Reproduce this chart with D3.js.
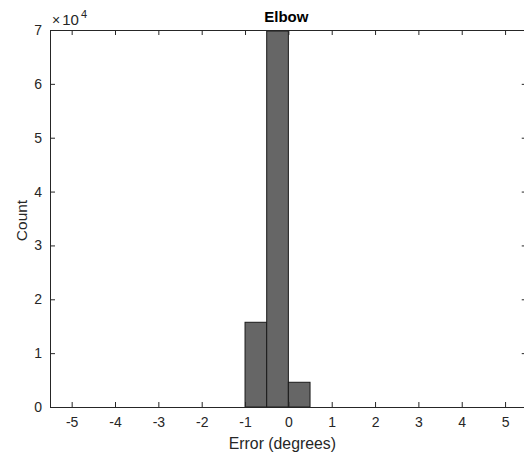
<!DOCTYPE html>
<html><head><meta charset="utf-8">
<script src="https://cdn.jsdelivr.net/npm/d3@7"></script>
<style>body{margin:0;background:#fff}svg{display:block}text{font-family:"Liberation Sans",Arial,sans-serif;fill:#262626}</style>
</head><body>
<svg id="c" width="524" height="456"></svg>
<script>
const binEdgesLeft = [-1, -0.5, 0];
const binWidth = 0.5;
const counts = [15730, 69800, 4590];
const xTicks = [-5, -4, -3, -2, -1, 0, 1, 2, 3, 4, 5];
const yTicks = [0, 1, 2, 3, 4, 5, 6, 7];
const title = "Elbow";
const xLabel = "Error (degrees)";
const yLabel = "Count";

(function () {
const svg = d3.select("#c");
const L = 50, T = 30, B = 407;
const x = d3.scaleLinear().domain([-5.5, 5.5]).range([L, L + 11 * 43.34]);
const y = d3.scaleLinear().domain([0, 70000]).range([B, T]);
const R = x(5.5);
const ax = "#262626";

// bars
svg.append("g").selectAll("rect").data(binEdgesLeft).join("rect")
  .attr("x", (d) => x(d)).attr("width", (d) => x(d + binWidth) - x(d))
  .attr("y", (d, i) => y(counts[i])).attr("height", (d, i) => y(0) - y(counts[i]))
  .attr("fill", "#666666").attr("stroke", "#1a1a1a").attr("stroke-width", 1);

// axes
const gBottom = svg.append("g").attr("transform", `translate(0,${B})`)
  .call(d3.axisBottom(x).tickValues(xTicks).tickSizeInner(-5).tickSizeOuter(0).tickPadding(10).tickFormat(d => String(d)));
const gTop = svg.append("g").attr("transform", `translate(0,${T})`)
  .call(d3.axisTop(x).tickValues(xTicks).tickSizeInner(-5).tickSizeOuter(0).tickFormat(""));
const gLeft = svg.append("g").attr("transform", `translate(${L},0)`)
  .call(d3.axisLeft(y).tickValues(yTicks.map(v => v * 10000)).tickSizeInner(-5).tickSizeOuter(0).tickPadding(8).tickFormat(d => String(d / 10000)));
const gRight = svg.append("g").attr("transform", `translate(${R},0)`)
  .call(d3.axisRight(y).tickValues(yTicks.map(v => v * 10000)).tickSizeInner(-5).tickSizeOuter(0).tickFormat(""));
[gBottom, gTop, gLeft, gRight].forEach(g => {
  g.attr("font-size", 14).attr("font-family", '"Liberation Sans",Arial,sans-serif');
  g.select(".domain").attr("stroke", ax).attr("stroke-width", 1);
  g.selectAll(".tick line").attr("stroke", ax);
  g.selectAll(".tick text").attr("font-size", 14).attr("fill", ax);
});

// exponent
const ex = svg.append("text").attr("x", 52).attr("y", 25).attr("text-anchor", "start").attr("font-size", 15);
ex.append("tspan").attr("font-size", 14).style("font-weight", "300").text("\u00d7");
ex.append("tspan").attr("dx", 2).text("10");
ex.append("tspan").attr("dx", 2).attr("dy", -7).attr("font-size", 11).text("4");

svg.append("text").attr("x", (L + R) / 2 - 2).attr("y", 22).attr("text-anchor", "middle")
  .attr("font-size", 15).attr("font-weight", "bold").style("fill", "#000").text(title);
svg.append("text").attr("x", (L + R) / 2 - 6).attr("y", 449).attr("text-anchor", "middle")
  .attr("font-size", 15.8).text(xLabel);
svg.append("text").attr("transform", `translate(27,${(T + B) / 2 + 2}) rotate(-90)`).attr("text-anchor", "middle")
  .attr("font-size", 15.5).text(yLabel);
})();
</script>
</body></html>
